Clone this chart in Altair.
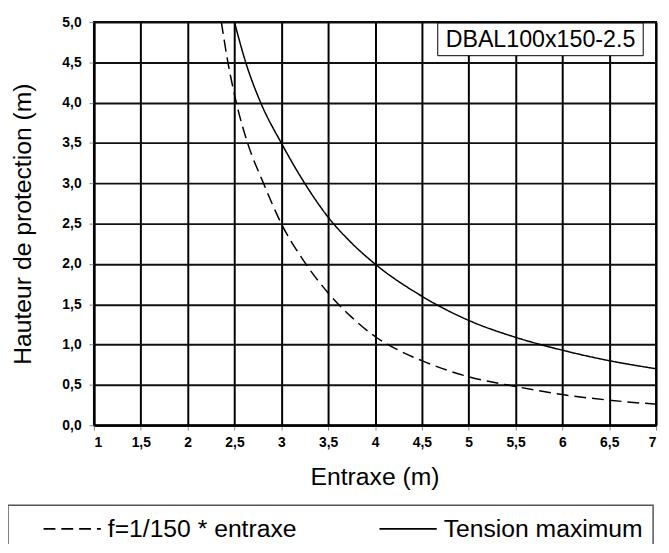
import altair as alt
import pandas as pd

# ---- data ----
x_tension = [2.5, 2.62, 2.78, 3.0, 3.25, 3.5, 3.75, 4.0, 4.5, 5.0, 5.5, 6.0, 6.5, 7.0]
y_tension = [5.0, 4.5, 4.0, 3.5, 3.0, 2.58, 2.26, 2.0, 1.6, 1.30, 1.09, 0.93, 0.80, 0.70]

x_f = [2.36, 2.43, 2.52, 2.64, 2.81, 3.0, 3.25, 3.5, 3.75, 4.0, 4.25, 4.5, 5.0, 5.5, 6.0, 6.5, 7.0]
y_f = [5.0, 4.5, 4.0, 3.5, 3.0, 2.5, 2.02, 1.64, 1.34, 1.10, 0.93, 0.80, 0.60, 0.48, 0.38, 0.31, 0.26]

series_names = ["f=1/150 * entraxe", "Tension maximum"]
x_ticks = [1, 1.5, 2, 2.5, 3, 3.5, 4, 4.5, 5, 5.5, 6, 6.5, 7]
y_ticks = [0, 0.5, 1, 1.5, 2, 2.5, 3, 3.5, 4, 4.5, 5]
box_label = "DBAL100x150-2.5"
x_title = "Entraxe (m)"
y_title = "Hauteur de protection (m)"

rows = []
for i, (xv, yv) in enumerate(zip(x_f, y_f)):
    rows.append({"series": series_names[0], "x": xv, "y": yv, "order": i})
for i, (xv, yv) in enumerate(zip(x_tension, y_tension)):
    rows.append({"series": series_names[1], "x": xv, "y": yv, "order": i})
df = pd.DataFrame(rows)

FONT = "Liberation Sans"

lines = alt.Chart(df).mark_line(color="black", strokeWidth=1.5, interpolate="monotone").encode(
    x=alt.X("x:Q",
            scale=alt.Scale(domain=[1, 7], nice=False, zero=False),
            axis=alt.Axis(values=x_ticks, title=x_title,
                          labelExpr="replace(format(datum.value, '~g'), '.', ',')",
                          gridColor="black", gridWidth=2,
                          titleX=284, titleY=60, titleBaseline="alphabetic",
                          titleAlign="center", labelPadding=6)),
    y=alt.Y("y:Q",
            scale=alt.Scale(domain=[0, 5], nice=False, zero=False),
            axis=alt.Axis(values=y_ticks, title=y_title,
                          labelExpr="replace(format(datum.value, '.1f'), '.', ',')",
                          gridColor="#111", gridWidth=2,
                          titleX=-64, titleY=204, titleAngle=270,
                          titleBaseline="alphabetic", titleAlign="center",
                          labelPadding=8)),
    strokeDash=alt.StrokeDash("series:N",
                              scale=alt.Scale(domain=series_names, range=[[12, 6], [1, 0]]),
                              legend=alt.Legend(orient="none", legendX=-52, legendY=483,
                                                direction="horizontal", title=None,
                                                symbolType="stroke", symbolSize=3364,
                                                symbolStrokeWidth=1.6,
                                                symbolStrokeColor="black",
                                                labelFontSize=25, labelFont=FONT,
                                                labelColor="black", labelOffset=6,
                                                columnPadding=79, padding=0,
                                                labelLimit=400)),
    order="order:Q",
)

lab = pd.DataFrame({"label": [box_label]})
box = alt.Chart(lab).mark_rect(fill="white", stroke="black", strokeWidth=1).encode(
    x=alt.value(348), x2=alt.value(556), y=alt.value(1), y2=alt.value(34))
box_text = alt.Chart(lab).mark_text(font=FONT, fontSize=23.5, color="black",
                                    align="center", baseline="middle").encode(
    x=alt.value(452), y=alt.value(18), text="label:N")

legend_frame = alt.Chart(lab).mark_rect(fill=None, stroke="#555", strokeWidth=1.5).encode(
    x=alt.value(-87), x2=alt.value(566), y=alt.value(489), y2=alt.value(545))

chart = alt.layer(lines, box, box_text, legend_frame).properties(
    width=569, height=408,
    autosize=alt.AutoSizeParams(type="none"),
    padding={"left": 87, "top": 11, "right": 5, "bottom": 117},
    background="white",
).configure_axis(
    labelFont=FONT, labelFontSize=14, labelFontWeight="bold", labelColor="black",
    titleFont=FONT, titleFontSize=25, titleFontWeight="normal", titleColor="black",
    domainColor="black", domainWidth=2, tickColor="#888", tickSize=5, tickWidth=1,
    gridOpacity=1,
).configure_view(stroke="black", strokeWidth=2)

chart.save("out.html", embed_options={"renderer": "svg", "actions": False})
